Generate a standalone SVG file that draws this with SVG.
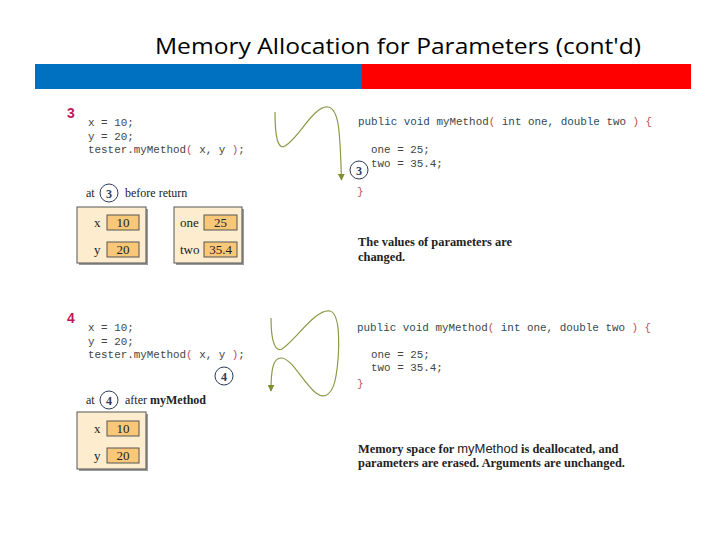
<svg xmlns="http://www.w3.org/2000/svg" width="720" height="540" viewBox="0 0 720 540">
<defs>
<marker id="ah" viewBox="0 0 10 10" refX="9" refY="5" markerWidth="7" markerHeight="7" orient="auto" markerUnits="userSpaceOnUse">
<path d="M0,0 L10,5 L0,10 z" fill="#7f8f2e"/>
</marker>
</defs>
<style>
.title{font-family:"Open Sans","Liberation Sans",sans-serif;font-size:21px;fill:#000}
.code{font-family:"Liberation Mono","DejaVu Sans Mono",monospace;font-size:10.9px;fill:#444}
.kw{fill:#1f4e5f}
.pr{fill:#c0504d}
.step{font-family:"Liberation Sans",Arial,sans-serif;font-size:14px;font-weight:bold;fill:#c2185b}
.tm{font-family:"Liberation Serif","Times New Roman",serif;font-size:12px;fill:#222}
.tmb{font-family:"Liberation Serif","Times New Roman",serif;font-size:12px;font-weight:bold;fill:#222}
.note{font-family:"Liberation Serif","Times New Roman",serif;font-size:12.4px;font-weight:bold;fill:#222}
.circ{fill:#fff;stroke:#2d3a5c;stroke-width:1}
.cnum{font-family:"Liberation Serif","Times New Roman",serif;font-size:12px;font-weight:bold;fill:#2d3a5c;text-anchor:middle}
.frame{fill:#fdecce;stroke:#555;stroke-width:1}
.shadow{fill:#9a9a9a}
.val{fill:#f8c878;stroke:#555;stroke-width:1}
.lbl{font-family:"Liberation Serif","Times New Roman",serif;font-size:13px;fill:#222}
.num{font-family:"Liberation Serif","Times New Roman",serif;font-size:13px;fill:#222;text-anchor:middle}
.curve{fill:none;stroke:#8b9a46;stroke-width:1.2}
</style>
<rect width="720" height="540" fill="#fff"/>
<g id="header">
<text class="title" x="155" y="54" textLength="486" lengthAdjust="spacingAndGlyphs">Memory Allocation for Parameters (cont'd)</text>
<rect x="35" y="64" width="327" height="25" fill="#0070c0"/>
<rect x="362" y="64" width="329" height="25" fill="#ff0000"/>
</g>
<g id="step3">
<text class="step" x="67" y="118">3</text>
<g id="caller3">
<text class="code" x="88" y="126">x = 10;</text>
<text class="code" x="88" y="139.5">y = 20;</text>
<text class="code" x="88" y="153">tester.myMethod<tspan class="pr">(</tspan> x, y <tspan class="pr">)</tspan>;</text>
</g>
<g id="method3">
<text class="code" x="358" y="125"><tspan class="kw">public void</tspan> myMethod<tspan class="pr">(</tspan> <tspan class="kw">int</tspan> one, <tspan class="kw">double</tspan> two <tspan class="pr">) {</tspan></text>
<text class="code" x="371" y="152.5">one = 25;</text>
<text class="code" x="371" y="167">two = 35.4;</text>
<text class="code pr" x="357" y="195">}</text>
<circle class="circ" cx="359" cy="170" r="9"/>
<text class="cnum" x="359" y="174.5">3</text>
</g>
<g id="label3">
<text class="tm" x="86" y="197">at</text>
<circle class="circ" cx="109" cy="193" r="9"/>
<text class="cnum" x="109" y="197.5">3</text>
<text class="tm" x="125" y="197">before return</text>
</g>
<g id="frame3a">
<rect class="shadow" x="79" y="209" width="69" height="56"/>
<rect class="frame" x="77" y="207" width="69" height="56"/>
<text class="lbl" x="94" y="227">x</text>
<rect class="val" x="107" y="215" width="32" height="15"/>
<text class="num" x="123" y="227">10</text>
<text class="lbl" x="94" y="254">y</text>
<rect class="val" x="107" y="242" width="32" height="15"/>
<text class="num" x="123" y="254">20</text>
</g>
<g id="frame3b">
<rect class="shadow" x="176" y="209" width="68" height="56"/>
<rect class="frame" x="174" y="207" width="68" height="56"/>
<text class="lbl" x="180" y="227">one</text>
<rect class="val" x="204" y="215" width="33" height="15"/>
<text class="num" x="220.5" y="227">25</text>
<text class="lbl" x="180" y="254">two</text>
<rect class="val" x="204" y="242" width="33" height="15"/>
<text class="num" x="220.5" y="254">35.4</text>
</g>
<g id="note3">
<text class="note" x="358" y="246">The values of parameters are</text>
<text class="note" x="358" y="261">changed.</text>
</g>
</g>
<g id="step4">
<text class="step" x="67" y="323">4</text>
<g id="caller4">
<text class="code" x="88" y="331">x = 10;</text>
<text class="code" x="88" y="344.5">y = 20;</text>
<text class="code" x="88" y="358">tester.myMethod<tspan class="pr">(</tspan> x, y <tspan class="pr">)</tspan>;</text>
<circle class="circ" cx="224" cy="376" r="9"/>
<text class="cnum" x="224" y="380.5">4</text>
</g>
<g id="method4">
<text class="code" x="357" y="331"><tspan class="kw">public void</tspan> myMethod<tspan class="pr">(</tspan> <tspan class="kw">int</tspan> one, <tspan class="kw">double</tspan> two <tspan class="pr">) {</tspan></text>
<text class="code" x="371" y="357.5">one = 25;</text>
<text class="code" x="371" y="371">two = 35.4;</text>
<text class="code pr" x="357" y="387">}</text>
</g>
<g id="label4">
<text class="tm" x="86" y="404">at</text>
<circle class="circ" cx="109" cy="400" r="9"/>
<text class="cnum" x="109" y="404.5">4</text>
<text class="tm" x="125" y="404">after <tspan class="tmb">myMethod</tspan></text>
</g>
<g id="frame4">
<rect class="shadow" x="79" y="414" width="69" height="57"/>
<rect class="frame" x="77" y="412" width="69" height="57"/>
<text class="lbl" x="94" y="433">x</text>
<rect class="val" x="107" y="421" width="32" height="15"/>
<text class="num" x="123" y="433">10</text>
<text class="lbl" x="94" y="460">y</text>
<rect class="val" x="107" y="448" width="32" height="15"/>
<text class="num" x="123" y="460">20</text>
</g>
<g id="note4">
<text class="note" x="358" y="453">Memory space for <tspan style="font-family:'Liberation Sans',Arial,sans-serif;font-weight:normal;font-size:13px">myMethod</tspan> is deallocated, and</text>
<text class="note" x="358" y="467">parameters are erased. Arguments are unchanged.</text>
</g>
</g>
<g id="connectors">
<path class="curve" marker-end="url(#ah)" d="M275,112 C275,138 278,150 285,146 C299,138 314,105 328,107 C339,109 340,130 341.5,180"/>
<path class="curve" marker-end="url(#ah)" d="M271,318 C271,344 276,352 282,349 C296,340 316,308 330,311 C342,314 339,358 336,376 C333,394 325,400 316,393 C303,383 292,358 281,358 C273,358 271,370 271,391"/>
</g>
</svg>
